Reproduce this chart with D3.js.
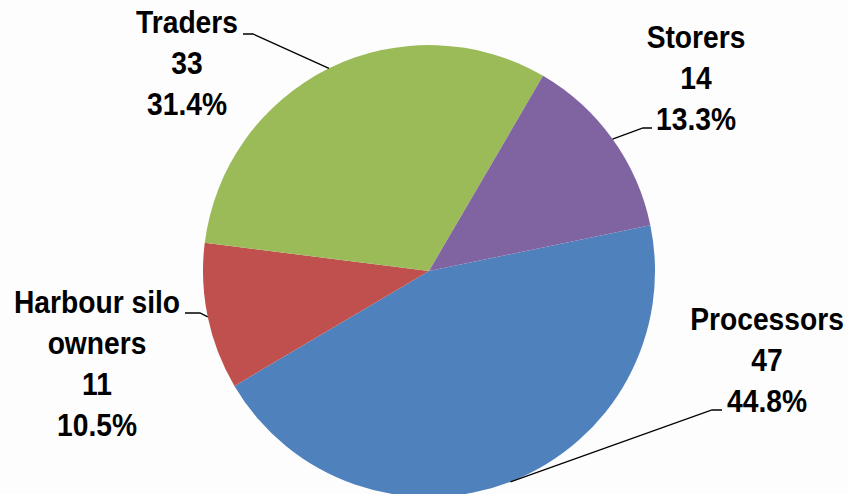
<!DOCTYPE html>
<html lang="en">
<head>
    <meta charset="UTF-8">
    <title>Pie chart</title>
    <script src="https://d3js.org/d3.v7.min.js"></script>
    <style>
        body { margin: 0; background: #fdfdfd; }
        svg { display: block; }
        .lbl {
            font-family: "Liberation Sans Narrow", "Arial Narrow", "Liberation Sans", Arial, sans-serif;
            font-weight: bold;
            font-size: 31px;
            fill: #000;
        }
    </style>
</head>
<body>
    <svg width="848" height="494"></svg>
    <script>
        const categories = ["Processors", "Harbour silo owners", "Traders", "Storers"];
        const values = [47, 11, 33, 14];
        const labelLines = [["Processors"], ["Harbour silo", "owners"], ["Traders"], ["Storers"]];
        const colors = ["#4F81BD", "#C0504D", "#9BBB59", "#8064A2"];

        // label anchor (centre x, first baseline) and elbow of the leader line
        const labelPos = [
            { x: 767, y: 330, ex: [722, 712], ey: 410 },
            { x: 97, y: 313, ex: [185, 200], ey: 313 },
            { x: 187, y: 33, ex: [243, 253], ey: 34 },
            { x: 696, y: 48, ex: [652, 643], ey: 128 }
        ];

        const svg = d3.select("svg");
        const cx = 429, cy = 271, r = 226;
        const total = d3.sum(values);
        const start = 78.3 * Math.PI / 180;

        const pie = d3.pie().sort(null).value(d => d)
            .startAngle(start).endAngle(start + 2 * Math.PI);
        const arcs = pie(values);
        const arc = d3.arc().innerRadius(0).outerRadius(r);

        const g = svg.append("g").attr("transform", `translate(${cx},${cy})`);
        g.selectAll("path").data(arcs).enter().append("path")
            .attr("d", arc)
            .attr("fill", (d, i) => colors[i]);

        const fmt = d3.format(".1%");

        arcs.forEach((d, i) => {
            const p = labelPos[i];
            const mid = (d.startAngle + d.endAngle) / 2;
            const px = cx + r * Math.sin(mid), py = cy - r * Math.cos(mid);
            svg.append("polyline")
                .attr("points", `${p.ex[0]},${p.ey} ${p.ex[1]},${p.ey} ${px},${py}`)
                .attr("fill", "none").attr("stroke", "#000").attr("stroke-width", 1.3);

            const lines = labelLines[i].concat([String(values[i]), fmt(values[i] / total)]);
            // narrow bold look: squeeze the regular sans horizontally
            const t = svg.append("text").attr("class", "lbl")
                .attr("text-anchor", "middle")
                .attr("transform", `translate(${p.x},0) scale(0.91,1)`);
            lines.forEach((s, k) => {
                t.append("tspan").attr("x", 0).attr("y", p.y + k * 41).text(s);
            });
        });
    </script>
</body>
</html>
